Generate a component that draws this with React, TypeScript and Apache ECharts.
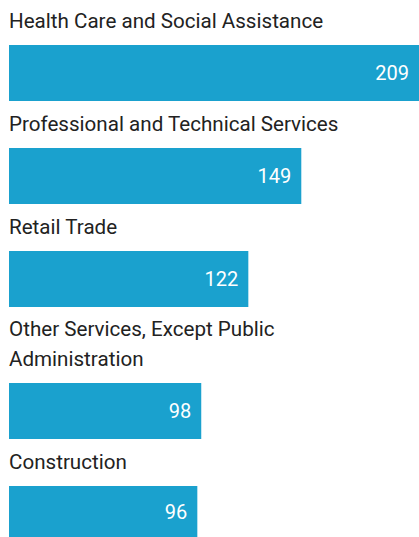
import React, { useEffect, useRef } from "react";
import * as echarts from "echarts";

const categories = [
  "Health Care and Social Assistance",
  "Professional and Technical Services",
  "Retail Trade",
  "Other Services, Except Public Administration",
  "Construction",
];
const categoryLines = [
  ["Health Care and Social Assistance"],
  ["Professional and Technical Services"],
  ["Retail Trade"],
  ["Other Services, Except Public", "Administration"],
  ["Construction"],
];
const values = [209, 149, 122, 98, 96];

const BAR_COLOR = "#1aa1ce";
const TEXT_COLOR = "#222222";
const FONT = "Roboto";

export default function App() {
  const ref = useRef<HTMLDivElement>(null);

  useEffect(() => {
    if (!ref.current) return;
    const chart = echarts.init(ref.current, undefined, { renderer: "svg" });

    const barH = 56;
    const lineH = 30;
    const tops: number[] = [];
    let y = 45;
    categories.forEach((_, i) => {
      if (i > 0) y += barH + 47 + 29 * (categoryLines[i].length - 1);
      tops.push(y);
    });

    const grids = categories.map((_, i) => ({
      left: 9,
      top: tops[i],
      width: 414,
      height: barH,
      containLabel: false,
    }));
    const xAxes = categories.map((_, i) => ({
      type: "value" as const,
      gridIndex: i,
      min: 0,
      max: 209,
      show: false,
    }));
    const yAxes = categories.map((c, i) => ({
      type: "category" as const,
      gridIndex: i,
      data: [c],
      show: false,
    }));
    const series = categories.map((c, i) => ({
      type: "bar" as const,
      xAxisIndex: i,
      yAxisIndex: i,
      data: [values[i]],
      barWidth: "100%",
      itemStyle: { color: BAR_COLOR },
      label: {
        show: true,
        position: "insideRight" as const,
        distance: 10,
        color: "#ffffff",
        fontFamily: FONT,
        fontSize: 20,
      },
      silent: true,
    }));
    const graphics = categories.map((_, i) => ({
      type: "text" as const,
      x: 9,
      y: tops[i] - 9,
      style: {
        text: categoryLines[i].join("\n"),
        fill: TEXT_COLOR,
        font: `20.6px ${FONT}`,
        lineHeight: lineH,
        verticalAlign: "bottom" as const,
        align: "left" as const,
      },
    }));

    chart.setOption({
      animation: false,
      backgroundColor: "#ffffff",
      grid: grids,
      xAxis: xAxes,
      yAxis: yAxes,
      series,
      graphic: graphics,
    });

    return () => chart.dispose();
  }, []);

  return (
    <div
      ref={ref}
      style={{ position: "absolute", left: 0, top: 0, width: 419, height: 537 }}
    />
  );
}
